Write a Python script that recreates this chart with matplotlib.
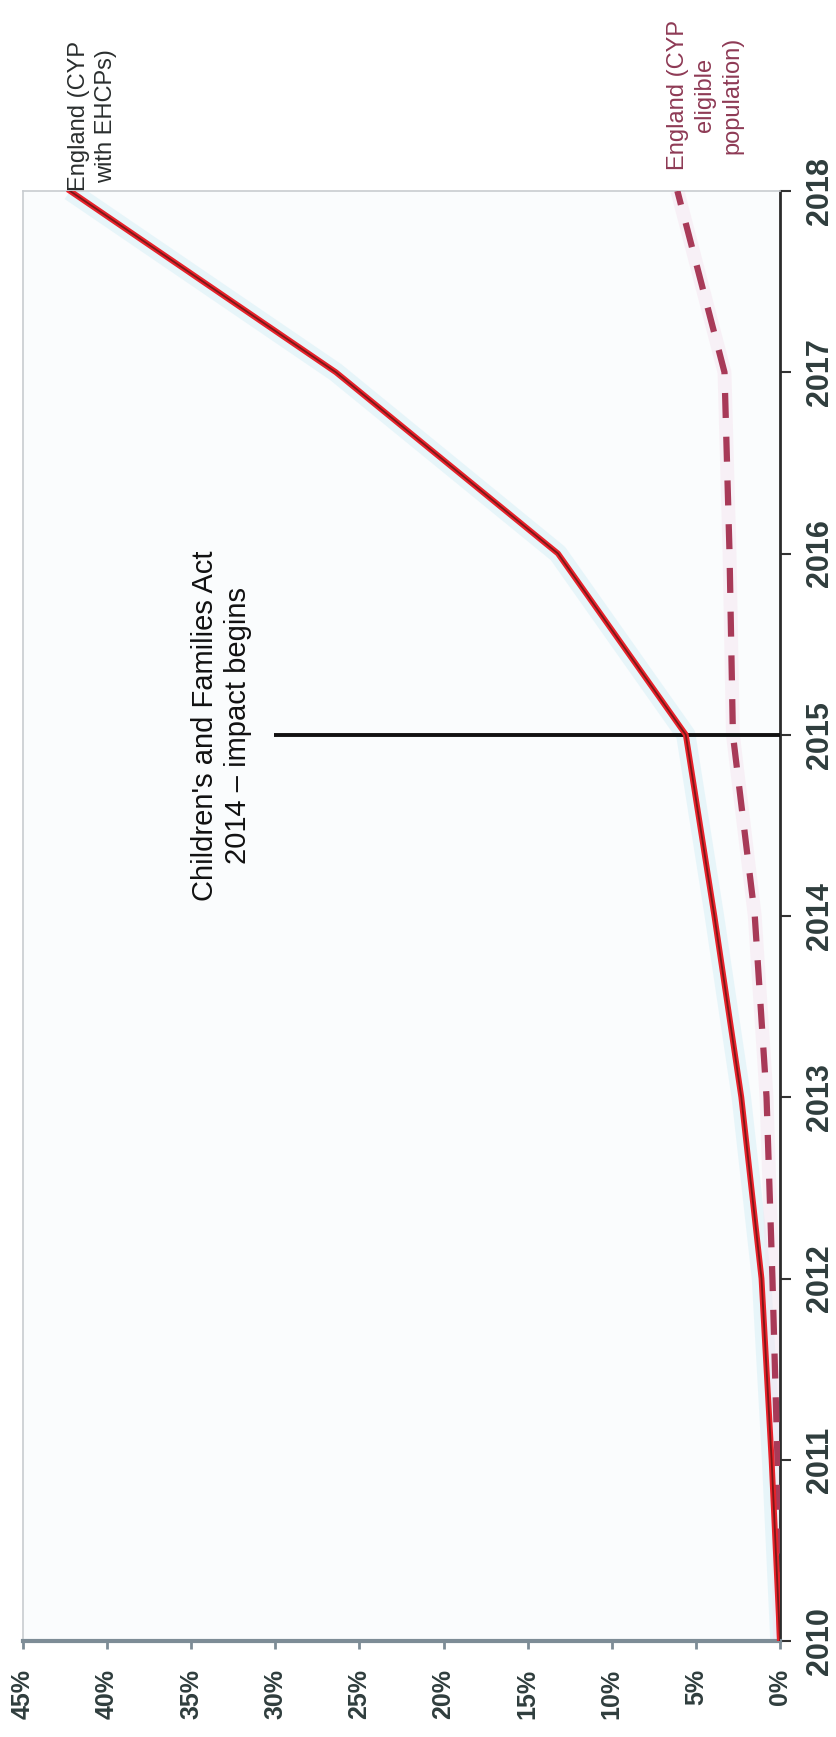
import matplotlib
matplotlib.use("Agg")
import matplotlib.pyplot as plt

plt.rcParams['font.family'] = ['Liberation Sans', 'DejaVu Sans']

# ---- data ----
years = [2010, 2011, 2012, 2013, 2014, 2015, 2016, 2017, 2018]
ehcp_pct = [0.0, 0.5, 1.1, 2.3, 3.9, 5.6, 13.2, 26.4, 42.2]        # England (CYP with EHCPs)
eligible_pct = [0.0, 0.15, 0.45, 0.8, 1.5, 2.8, 3.0, 3.3, 6.1]      # England (CYP eligible population)
pct_ticks = [0, 5, 10, 15, 20, 25, 30, 35, 40, 45]
event_year = 2015
event_line_from = 30.1
event_text = "Children's and Families Act\n2014 \u2013 impact begins"
label_ehcp = "England (CYP\nwith EHCPs)"
label_elig = "England (CYP\neligible\npopulation)"

W, H = 837, 1737
fig = plt.figure(figsize=(W / 100, H / 100), dpi=100)
ax = fig.add_axes([23 / W, 96 / H, 757 / W, 1450 / H])
ax.set_facecolor('#fafcfd')

# rotated chart: percent runs right-to-left along the bottom, years bottom-to-top on the right
ax.set_xlim(45, 0)
ax.set_ylim(2010, 2018)

# faint scan-like halos
ax.plot(ehcp_pct, years, color='#d9f0f7', lw=14, alpha=0.55, solid_capstyle='butt', zorder=1)
ax.plot(eligible_pct, years, color='#f5e3ee', lw=10, alpha=0.45, solid_capstyle='butt', zorder=1)

# event line
ax.plot([event_line_from, 0], [event_year, event_year], color='#111111', lw=2.8, zorder=3,
        solid_capstyle='butt')

# series
ax.plot(eligible_pct, years, color='#a83a58', lw=4.5, dashes=(4, 3), zorder=4,
        dash_capstyle='butt')
ax.plot(ehcp_pct, years, color='#e8222b', lw=4.2, zorder=5, solid_joinstyle='round')
ax.plot(ehcp_pct, years, color='#7a1818', lw=1.3, zorder=6, solid_joinstyle='round')

ax.text(33.2, event_year + 0.05, event_text, rotation=90, ha='center', va='center',
        multialignment='center', fontsize=21, color='#111111', linespacing=1.2)

ax.annotate(label_ehcp, xy=(ehcp_pct[-1], years[-1]), xytext=(22, 0),
            textcoords='offset pixels', rotation=90, ha='center', va='bottom',
            multialignment='center', fontsize=17, color='#2a2e2e', linespacing=1.3,
            annotation_clip=False)
ax.annotate(label_elig, xy=(eligible_pct[-1], years[-1]), xytext=(28, 21),
            textcoords='offset pixels', rotation=90, ha='center', va='bottom',
            multialignment='center', fontsize=17, color='#8e3a55', linespacing=1.3,
            annotation_clip=False)

# axes styling
ax.yaxis.tick_right()
ax.set_yticks(years)
ax.set_yticklabels([str(y) for y in years], rotation=90, va='center', fontsize=22,
                   fontweight='bold', color='#2f3d3d')
ax.set_xticks(pct_ticks)
ax.set_xticklabels([f"{p}%" for p in pct_ticks], rotation=90, ha='center', va='top',
                   fontsize=18, fontweight='bold', color='#2f3d3d')
ax.tick_params(axis='y', which='major', direction='out', length=8, width=1.5,
               color='#333333', pad=10, right=True, left=False)
ax.tick_params(axis='x', which='major', direction='out', length=6, width=2,
               color='#7d8c96', pad=14)

for s in ['top', 'left']:
    ax.spines[s].set_color('#c8ccd0')
    ax.spines[s].set_linewidth(1.2)
ax.spines['right'].set_color('#2b2b2b')
ax.spines['right'].set_linewidth(2)
ax.spines['bottom'].set_color('#7d8c96')
ax.spines['bottom'].set_linewidth(3)

fig.savefig('out.png', dpi=100, facecolor='white')
